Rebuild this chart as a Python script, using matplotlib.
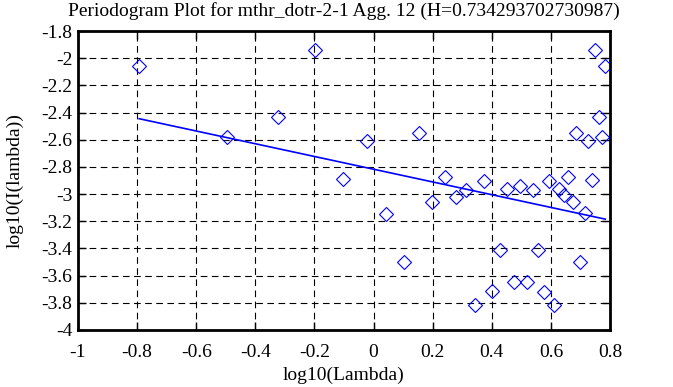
import matplotlib
matplotlib.use("Agg")
import matplotlib.pyplot as plt
from matplotlib.ticker import FuncFormatter, MultipleLocator
import numpy as np

plt.rcParams['font.family'] = ['Liberation Serif', 'DejaVu Serif']

# periodogram points (log10 lambda, log10 I(lambda))
log_lambda = [-0.793, -0.495, -0.322, -0.197, -0.102, -0.021, 0.041, 0.102,
              0.154, 0.199, 0.241, 0.278, 0.312, 0.342, 0.373, 0.401,
              0.427, 0.450, 0.476, 0.496, 0.518, 0.538, 0.558, 0.575,
              0.592, 0.609, 0.626, 0.643, 0.657, 0.674, 0.686, 0.700,
              0.714, 0.724, 0.738, 0.749, 0.764, 0.773, 0.784]
log_I = [-2.06, -2.577, -2.435, -1.94, -2.89, -2.61, -3.145, -3.496,
         -2.55, -3.055, -2.876, -3.02, -2.967, -3.815, -2.90, -3.714,
         -3.415, -2.964, -3.65, -2.94, -3.65, -2.967, -3.415, -3.717,
         -2.90, -3.815, -2.96, -3.01, -2.876, -3.055, -2.55, -3.496,
         -3.14, -2.61, -2.893, -1.94, -2.435, -2.58, -2.06]

# least squares fit line, slope = 1 - 2H
H = 0.734293702730987
slope = 1 - 2 * H
intercept = -2.817

title = "Periodogram Plot for mthr_dotr-2-1 Agg. 12 (H=%s)" % repr(H)


def fmt(v, pos):
    return "%g" % round(v, 6)


fig = plt.figure(figsize=(6.73, 3.87), dpi=100)
ax = fig.add_axes([78 / 673, 1 - 330 / 387, 532 / 673, 299 / 387])

ax.plot(log_lambda, log_I, linestyle='none', marker='D', markersize=7.5,
        markerfacecolor='none', markeredgecolor='#0000ff', markeredgewidth=0.8)
xs = np.array([min(log_lambda), max(log_lambda)])
ax.plot(xs, intercept + slope * xs, color='#0000ff', linewidth=1.2)

ax.set_xlim(-1, 0.8)
ax.set_ylim(-4, -1.8)
ax.xaxis.set_major_locator(MultipleLocator(0.2))
ax.yaxis.set_major_locator(MultipleLocator(0.2))
ax.xaxis.set_major_formatter(FuncFormatter(fmt))
ax.yaxis.set_major_formatter(FuncFormatter(fmt))
ax.grid(True, color='black', linewidth=0.8, linestyle=(0, (6, 4)))
ax.tick_params(direction='in', length=6, width=1, top=True, right=True,
               labelsize=14)
ax.tick_params(axis='x', pad=10)
ax.tick_params(axis='y', pad=4)
for s in ax.spines.values():
    s.set_linewidth(2)

ax.set_xlabel("log10(Lambda)", fontsize=14, labelpad=4)
ax.set_ylabel("log10(I(lambda))", fontsize=14, labelpad=13)
ax.set_title(title, fontsize=14, pad=11)

fig.savefig("out.png", dpi=100)
